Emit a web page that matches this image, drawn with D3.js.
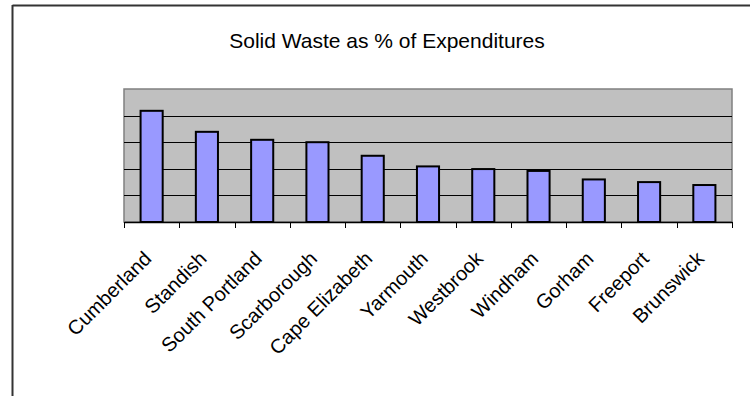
<!DOCTYPE html>
<html>
<head>
<meta charset="utf-8">
<script src="https://cdn.jsdelivr.net/npm/d3@7"></script>
<style>
  html, body { margin: 0; padding: 0; background: #fff; }
  svg { display: block; font-family: Arial, "Liberation Sans", sans-serif; }
</style>
</head>
<body>
<svg id="chart" width="750" height="396"></svg>
<script>
// Towns and their solid-waste share of expenditures
const towns = ["Cumberland", "Standish", "South Portland", "Scarborough", "Cape Elizabeth",
               "Yarmouth", "Westbrook", "Windham", "Gorham", "Freeport", "Brunswick"];
const wasteShare = [4.18, 3.39, 3.09, 3.0, 2.49, 2.09, 1.99, 1.92, 1.6, 1.5, 1.39];
const gridValues = [1, 2, 3, 4];
const chartTitle = "Solid Waste as % of Expenditures";

const svg = d3.select("#chart");
const plot = { left: 124, right: 732, top: 89, bottom: 222 };

// Outer frame (top and left edges)
svg.append("line").attr("x1", 12.5).attr("x2", 750).attr("y1", 5.5).attr("y2", 5.5)
  .attr("stroke", "#333").attr("stroke-width", 2);
svg.append("line").attr("x1", 12.5).attr("x2", 12.5).attr("y1", 5).attr("y2", 396)
  .attr("stroke", "#333").attr("stroke-width", 2);

svg.append("text")
  .attr("x", 387).attr("y", 48)
  .attr("text-anchor", "middle")
  .attr("font-size", 21)
  .attr("fill", "#000")
  .text(chartTitle);

const x = d3.scaleBand().domain(towns).range([plot.left, plot.right]).paddingInner(0.6).paddingOuter(0.3);
const band = d3.scaleBand().domain(towns).range([plot.left, plot.right]);
const y = d3.scaleLinear().domain([0, 5]).range([plot.bottom, plot.top]);

// Plot area
svg.append("rect")
  .attr("x", plot.left).attr("y", plot.top)
  .attr("width", plot.right - plot.left).attr("height", plot.bottom - plot.top)
  .attr("fill", "#c0c0c0").attr("stroke", "#808080").attr("stroke-width", 1.5);

svg.append("g").selectAll("line").data(gridValues).join("line")
  .attr("x1", plot.left).attr("x2", plot.right)
  .attr("y1", d => Math.round(y(d)) + 0.5).attr("y2", d => Math.round(y(d)) + 0.5)
  .attr("stroke", "#000").attr("stroke-width", 1);

// Bars
svg.append("g").selectAll("rect").data(towns).join("rect")
  .attr("x", d => band(d) + band.bandwidth() / 2 - x.bandwidth() / 2)
  .attr("width", x.bandwidth())
  .attr("y", (d, i) => y(wasteShare[i]))
  .attr("height", (d, i) => y(0) - y(wasteShare[i]))
  .attr("fill", "#9999ff").attr("stroke", "#000").attr("stroke-width", 2);

// Category axis
const axis = d3.axisBottom(band).tickSize(0).tickPadding(0);
const gx = svg.append("g").attr("transform", `translate(0,${plot.bottom})`).call(axis);
gx.select(".domain").attr("stroke", "#000").attr("stroke-width", 1.5);
gx.selectAll(".tick text")
  .attr("font-size", 20)
  .attr("font-family", "Arial, 'Liberation Sans', sans-serif")
  .attr("fill", "#000")
  .attr("text-anchor", "end")
  .attr("x", 0).attr("y", 0).attr("dy", 0)
  .attr("transform", "translate(1,38) rotate(-45)");

// Tick marks at category boundaries
const bounds = towns.map(t => band(t)).concat([plot.right]);
svg.append("g").selectAll("line").data(bounds).join("line")
  .attr("x1", d => Math.round(d) + 0.5).attr("x2", d => Math.round(d) + 0.5)
  .attr("y1", plot.bottom).attr("y2", plot.bottom + 6)
  .attr("stroke", "#000").attr("stroke-width", 1);
</script>
</body>
</html>
